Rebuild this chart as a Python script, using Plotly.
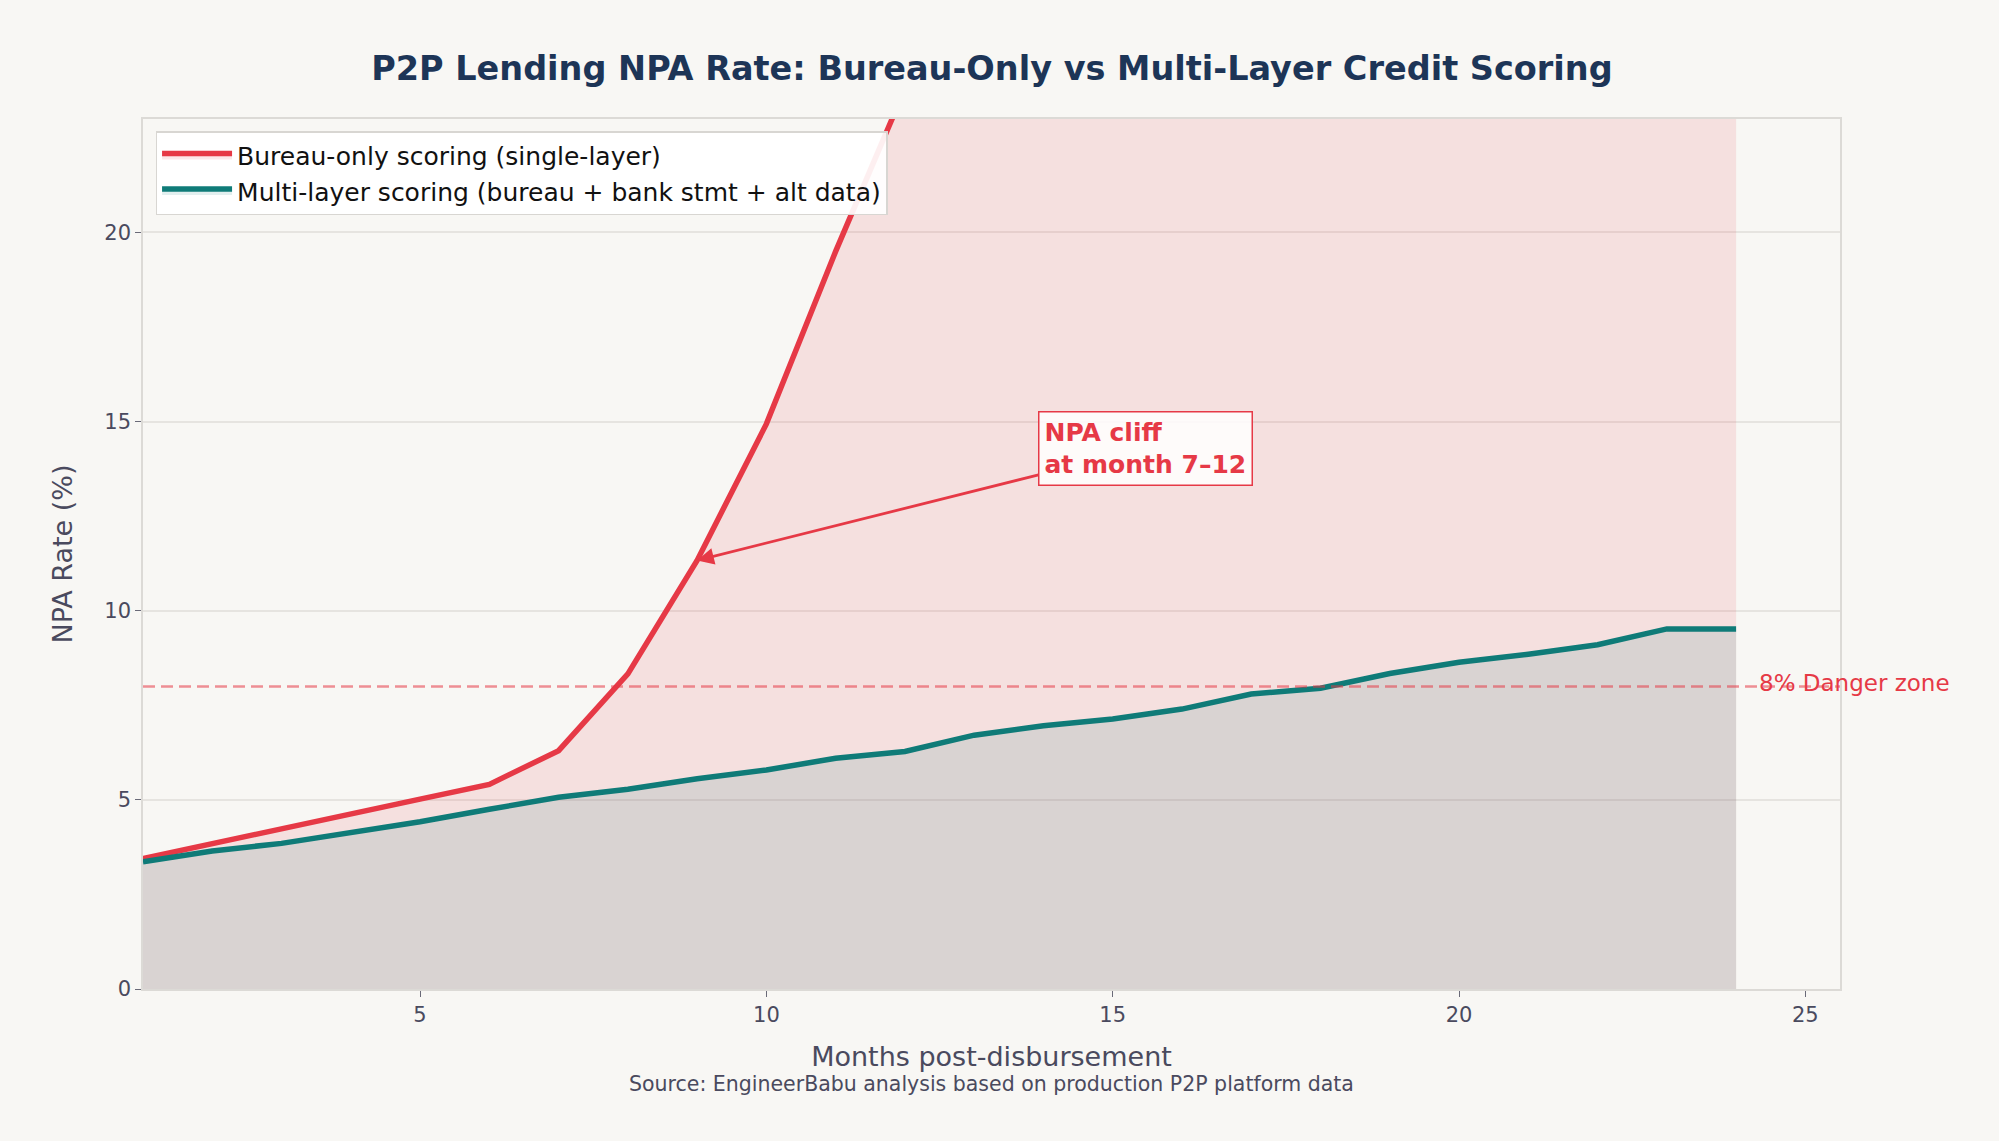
import plotly.graph_objects as go

months = list(range(1, 25))
bureau_only = [3.45, 3.85, 4.25, 4.62, 5.02, 5.41, 6.3, 8.33, 11.33, 14.94, 19.5, 23.8,
               27.5, 30.5, 33.0, 35.0, 36.6, 37.9, 39.0, 39.9, 40.6, 41.2, 41.7, 42.1]
multi_layer = [3.36, 3.65, 3.85, 4.13, 4.42, 4.75, 5.07, 5.28, 5.56, 5.79, 6.1, 6.28,
               6.71, 6.96, 7.14, 7.4, 7.8, 7.95, 8.34, 8.64, 8.85, 9.1, 9.52, 9.52]
danger_level = 8
danger_label = "8% Danger zone"
cliff_month = 9
x_ticks = [5, 10, 15, 20, 25]
y_ticks = [0, 5, 10, 15, 20]

RED = "#e63946"
TEAL = "#0f7b78"
BG = "#f8f7f4"
TXT = "#4a4a5e"
FONT = "DejaVu Sans"

fig = go.Figure()

fig.add_trace(go.Scatter(
    x=months, y=bureau_only, mode="lines", name="Bureau-only scoring (single-layer)",
    line=dict(color=RED, width=5.5), fill="tozeroy", fillcolor="rgba(230,57,70,0.12)",
))
fig.add_trace(go.Scatter(
    x=months, y=multi_layer, mode="lines",
    name="Multi-layer scoring (bureau + bank stmt + alt data)",
    line=dict(color=TEAL, width=5.5), fill="tozeroy", fillcolor="rgba(15,123,120,0.12)",
))

fig.add_shape(type="line", xref="paper", x0=0, x1=1, yref="y", y0=danger_level, y1=danger_level,
              line=dict(color="rgba(230,57,70,0.55)", width=2.5, dash="12px,6px"), layer="above")

fig.add_annotation(x=24.3, y=danger_level, xref="x", yref="y", text=danger_label,
                   showarrow=False, xanchor="left", yanchor="middle", yshift=3,
                   font=dict(family=FONT, size=23, color=RED))

fig.add_annotation(x=cliff_month, y=bureau_only[cliff_month - 1], xref="x", yref="y",
                   ax=15.47, ay=14.3, axref="x", ayref="y",
                   text="<b>NPA cliff<br>at month 7–12</b>", align="left",
                   showarrow=True, arrowhead=2, arrowsize=1.2, arrowwidth=2.8, arrowcolor=RED,
                   font=dict(family=FONT, size=25, color=RED),
                   bgcolor="rgba(255,255,255,0.85)", bordercolor=RED, borderwidth=1.5, borderpad=5)

fig.add_annotation(x=0.5, y=-0.109, xref="paper", yref="paper",
                   text="Source: EngineerBabu analysis based on production P2P platform data",
                   showarrow=False, xanchor="center", yanchor="middle",
                   font=dict(family=FONT, size=20.5, color=TXT))

fig.update_layout(
    width=1999, height=1141,
    paper_bgcolor=BG, plot_bgcolor=BG,
    margin=dict(l=143, r=159, t=119, b=152),
    title=dict(text="<b>P2P Lending NPA Rate: Bureau-Only vs Multi-Layer Credit Scoring</b>",
               x=0.4962, xanchor="center", y=1 - 68.5 / 1141, yanchor="middle",
               font=dict(family=FONT, size=33.5, color="#1d3557")),
    font=dict(family=FONT, color=TXT),
    legend=dict(x=0.0074, y=0.986, xanchor="left", yanchor="top", itemwidth=70,
                bgcolor="rgba(255,255,255,0.92)", bordercolor="#d8d6d2", borderwidth=1.5,
                font=dict(family=FONT, size=25, color="#111111"), tracegroupgap=0),
    showlegend=True,
)

fig.update_xaxes(range=[1, 25.5], tickvals=x_ticks, showgrid=False, zeroline=False,
                 ticks="outside", ticklen=6, tickcolor="#6a6a78", tickwidth=1.2,
                 tickfont=dict(family=FONT, size=21, color=TXT),
                 showline=True, mirror=True, linecolor="#dcdad6", linewidth=1.5,
                 title=dict(text="Months post-disbursement", standoff=21,
                            font=dict(family=FONT, size=27, color=TXT)))
fig.update_yaxes(range=[0, 23], tickvals=y_ticks, showgrid=True, gridcolor="#e6e4e0", gridwidth=1.5,
                 zeroline=False, ticks="outside", ticklen=6, tickcolor="#6a6a78", tickwidth=1.2,
                 tickfont=dict(family=FONT, size=21, color=TXT),
                 showline=True, mirror=True, linecolor="#dcdad6", linewidth=1.5,
                 title=dict(text="NPA Rate (%)", standoff=24,
                            font=dict(family=FONT, size=27, color=TXT)))

fig.write_html("out.html")
